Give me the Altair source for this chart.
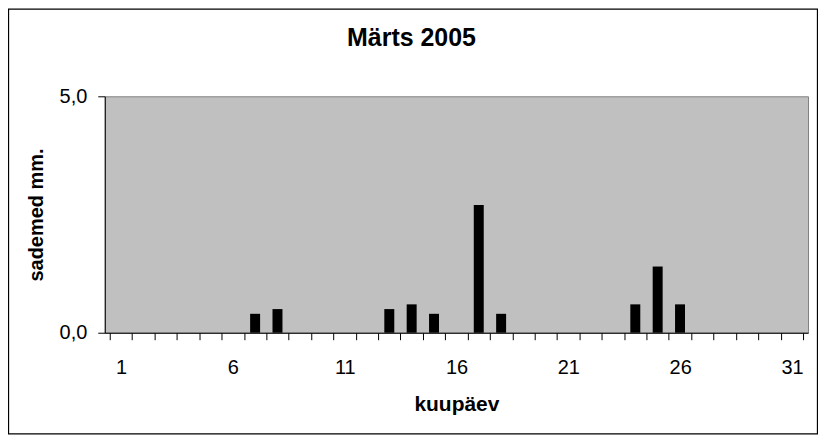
import altair as alt
import pandas as pd

days = list(range(1, 32))
rain = [0, 0, 0, 0, 0, 0, 0.4, 0.5, 0, 0, 0, 0, 0.5, 0.6, 0.4, 0, 2.7, 0.4, 0, 0,
        0, 0, 0, 0.6, 1.4, 0.6, 0, 0, 0, 0, 0]
x_ticks = [d - 0.5 for d in range(1, 33)]
y_ticks = [0, 5]

df = pd.DataFrame({"kuupaev": days, "sademed": rain})

FONT = "Liberation Sans"
W, H = 705, 237
half_band = W / 31 / 2

bars = alt.Chart(df).mark_bar(color="black", size=10).encode(
    x=alt.X("kuupaev:Q",
            scale=alt.Scale(domain=[0.5, 31.5], nice=False, zero=False),
            axis=alt.Axis(values=x_ticks,
                          labelExpr="(datum.value - 0.5) % 5 == 0 && datum.value < 31 ? toString(datum.value + 0.5) : ''",
                          labelOffset=half_band, labelFlush=False, labelOverlap=False,
                          labelFont=FONT, labelFontSize=20, labelColor="black",
                          labelPadding=18,
                          tickSize=7, tickColor="black", domainColor="black",
                          grid=False,
                          title="kuupäev", titleFont=FONT, titleFontSize=21,
                          titleFontWeight="bold", titleColor="black",
                          titleX=W / 2, titleY=78, titleAlign="center",
                          titleBaseline="alphabetic")),
    y=alt.Y("sademed:Q",
            scale=alt.Scale(domain=[0, 5], nice=False),
            axis=alt.Axis(values=y_ticks,
                          labelExpr="replace(format(datum.value, '.1f'), '.', ',')",
                          labelFlush=False, labelOverlap=False,
                          labelFont=FONT, labelFontSize=20, labelColor="black",
                          labelPadding=11,
                          tickSize=7, tickColor="black", domainColor="black",
                          grid=False,
                          title="sademed mm.", titleFont=FONT, titleFontSize=20,
                          titleFontWeight="bold", titleColor="black",
                          titleAngle=270, titleX=-62, titleY=H / 2,
                          titleAlign="center", titleBaseline="alphabetic")),
)

frame = alt.Chart(pd.DataFrame({"a": [0]})).mark_rect(
    fill=None, stroke="black", strokeWidth=1.3
).encode(
    x=alt.value(-96.5), x2=alt.value(714.5),
    y=alt.value(-87.5), y2=alt.value(338.5),
)

chart = alt.layer(bars, frame).properties(
    width=W, height=H,
    title=alt.TitleParams("Märts 2005", font=FONT, fontSize=25, fontWeight="bold",
                          color="black", anchor="middle", dx=-45,
                          baseline="alphabetic", offset=-63),
    autosize=alt.AutoSizeParams(type="none"),
    padding={"left": 97, "top": 88, "right": 10, "bottom": 102},
).configure(
    background="white",
    view=alt.ViewConfig(fill="#C0C0C0", stroke="#808080"),
)

chart.save("out.html", embed_options={"renderer": "svg", "actions": False})
